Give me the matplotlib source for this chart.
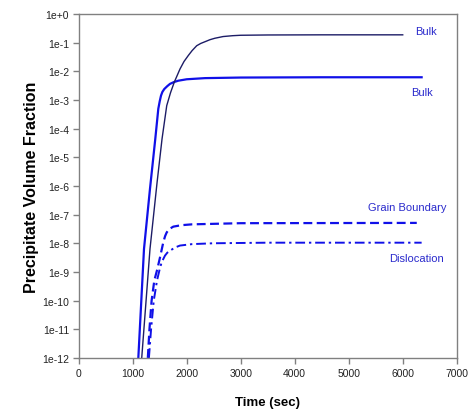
import numpy as np
import matplotlib
matplotlib.use("Agg")
from matplotlib import pyplot as plt
from matplotlib.ticker import FixedLocator, FixedFormatter

# curves: time (s), log10(volume fraction)
bulk_thin_t = [1167, 1320, 1450, 1543, 1630, 1700, 1770, 1876, 1950, 2030, 2100, 2185,
               2260, 2339, 2430, 2520, 2673, 2850, 3000, 3500, 4500, 6000]
bulk_thin_log = [-12, -8.20, -5.9, -4.36, -3.20, -2.75, -2.38, -1.92, -1.66, -1.45, -1.28, -1.11,
                 -1.03, -0.97, -0.90, -0.85, -0.79, -0.76, -0.745, -0.735, -0.73, -0.73]

bulk_thick_t = [1104, 1209, 1320, 1418, 1474, 1500, 1524, 1550, 1585, 1640, 1691, 1760,
                1844, 2000, 2339, 3000, 4500, 6350]
bulk_thick_log = [-12, -8.20, -6.1, -4.36, -3.31, -3.05, -2.85, -2.72, -2.62, -2.52, -2.44, -2.38,
                  -2.33, -2.28, -2.24, -2.22, -2.21, -2.21]

gb_t = [1280, 1310, 1350, 1400, 1456, 1506, 1567, 1600, 1630, 1680, 1752, 1900, 2100, 3000, 6260]
gb_log = [-12, -11, -10, -9.3, -8.9, -8.49, -7.96, -7.75, -7.62, -7.50, -7.42, -7.37, -7.34, -7.30, -7.29]

disl_t = [1300, 1340, 1390, 1450, 1500, 1537, 1598, 1640, 1691, 1780, 1876, 2100, 2500, 3500, 6350]
disl_log = [-12, -11, -10, -9.3, -8.9, -8.66, -8.43, -8.33, -8.26, -8.15, -8.08, -8.03, -8.0, -7.98, -7.98]

x_ticks = [0, 1000, 2000, 3000, 4000, 5000, 6000, 7000]
y_tick_exp = list(range(0, -13, -1))
y_tick_labels = ["1e+0"] + ["1e%d" % e for e in y_tick_exp[1:]]

blue = "#1010e8"
navy = "#1c1c66"
grey = "#808080"
font = ["Liberation Sans", "DejaVu Sans"]


def main():
    fig = plt.figure(figsize=(4.77, 4.14), dpi=100)
    ax = fig.add_axes([0.165, 0.133, 0.7925, 0.831])

    ax.semilogy(bulk_thick_t, 10.0 ** np.array(bulk_thick_log), color=blue, lw=1.6)
    ax.semilogy(bulk_thin_t, 10.0 ** np.array(bulk_thin_log), color=navy, lw=1.0)
    ax.semilogy(gb_t, 10.0 ** np.array(gb_log), color=blue, lw=1.6, linestyle=(0, (4, 2)))
    ax.semilogy(disl_t, 10.0 ** np.array(disl_log), color=blue, lw=1.4,
                linestyle=(0, (5, 2, 1.2, 2)))

    ax.set_xlim(0, 7000)
    ax.set_ylim(1e-12, 1)
    ax.xaxis.set_major_locator(FixedLocator(x_ticks))
    ax.yaxis.set_major_locator(FixedLocator([10.0 ** e for e in y_tick_exp]))
    ax.yaxis.set_major_formatter(FixedFormatter(y_tick_labels))
    ax.yaxis.set_minor_locator(FixedLocator([]))

    for s in ax.spines.values():
        s.set_color(grey)
        s.set_linewidth(1.0)
    ax.tick_params(direction="out", length=4, width=1.0, color=grey,
                   labelsize=7.5, pad=3)
    for lab in ax.get_xticklabels() + ax.get_yticklabels():
        lab.set_family(font)
        lab.set_color("#222222")

    ax.set_xlabel("Time (sec)", fontsize=9.5, fontweight="bold", family=font, labelpad=13)
    ax.set_ylabel("Precipitate Volume Fraction", fontsize=11.5, fontweight="bold",
                  family=font, labelpad=2)

    tc = "#2a2acc"
    ax.text(6228, 10 ** -0.42, "Bulk", color=tc, fontsize=8, family=font,
            ha="left", va="top")
    ax.text(6150, 10 ** -2.55, "Bulk", color=tc, fontsize=8, family=font,
            ha="left", va="top")
    ax.text(6815, 10 ** -6.55, "Grain Boundary", color=tc, fontsize=8, family=font,
            ha="right", va="top")
    ax.text(6765, 10 ** -8.35, "Dislocation", color=tc, fontsize=8, family=font,
            ha="right", va="top")

    fig.savefig("out.png", dpi=100)


if __name__ == "__main__":
    main()
